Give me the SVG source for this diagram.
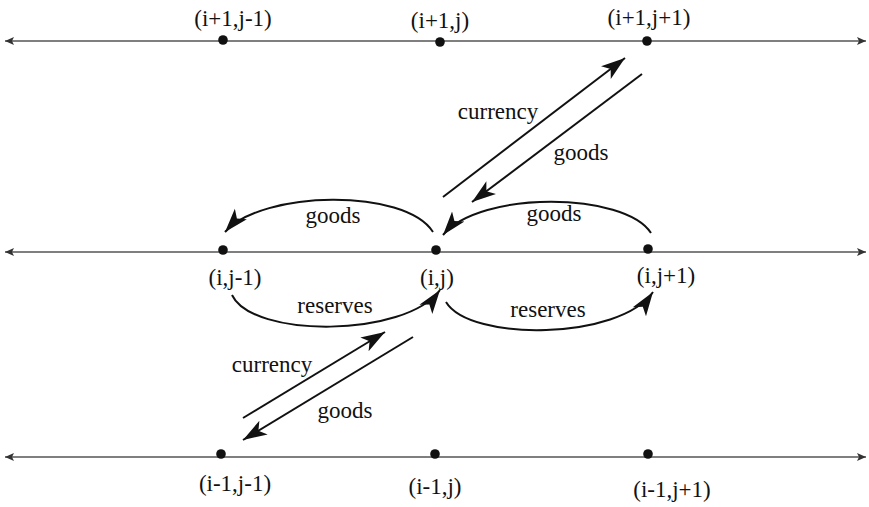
<svg xmlns="http://www.w3.org/2000/svg" width="869" height="507" viewBox="0 0 869 507">
<style>
.axis{stroke:#555;stroke-width:1.5;fill:none;marker-start:url(#ah);marker-end:url(#ah)}
.arr{stroke:#111;stroke-width:2;fill:none;marker-end:url(#big)}
.dot{fill:#111}
text{font-family:"Liberation Serif","Times New Roman",serif;font-size:23px;fill:#111;text-anchor:middle}
</style>
<defs>
<marker id="ah" markerWidth="12" markerHeight="10" refX="9" refY="5" orient="auto-start-reverse" markerUnits="userSpaceOnUse">
<path d="M9,5 L0,1 L2,5 L0,9 z" fill="#333"/>
</marker>
<marker id="big" markerWidth="26" markerHeight="20" refX="24" refY="10" orient="auto" markerUnits="userSpaceOnUse">
<path d="M24,10 L0,2 L6,10 L0,18 z" fill="#111"/>
</marker>
</defs>
<g id="axes">
<line class="axis" x1="5" y1="41" x2="866" y2="41"/>
<line class="axis" x1="5" y1="252" x2="866" y2="252"/>
<line class="axis" x1="5" y1="457" x2="866" y2="457"/>
</g>
<g id="n_ip1_jm1"><circle class="dot" cx="223" cy="40" r="4.8"/><text x="233" y="26">(i+1,j-1)</text></g>
<g id="n_ip1_j"><circle class="dot" cx="440" cy="42" r="4.8"/><text x="440" y="28">(i+1,j)</text></g>
<g id="n_ip1_jp1"><circle class="dot" cx="647" cy="41" r="4.8"/><text x="649" y="25">(i+1,j+1)</text></g>
<g id="n_i_jm1"><circle class="dot" cx="223" cy="250" r="4.8"/><text x="235" y="285">(i,j-1)</text></g>
<g id="n_i_j"><circle class="dot" cx="436" cy="250" r="4.8"/><text x="437" y="285">(i,j)</text></g>
<g id="n_i_jp1"><circle class="dot" cx="648" cy="249" r="4.8"/><text x="666" y="283">(i,j+1)</text></g>
<g id="n_im1_jm1"><circle class="dot" cx="221" cy="454" r="4.8"/><text x="235" y="491">(i-1,j-1)</text></g>
<g id="n_im1_j"><circle class="dot" cx="435" cy="454" r="4.8"/><text x="435" y="494">(i-1,j)</text></g>
<g id="n_im1_jp1"><circle class="dot" cx="648" cy="454" r="4.8"/><text x="672" y="497">(i-1,j+1)</text></g>
<g id="connectors">
<line class="arr" x1="443" y1="197" x2="625" y2="58"/>
<line class="arr" x1="642" y1="74" x2="472" y2="202"/>
<path class="arr" d="M651,233 C625,192 480,190 443,235"/>
<path class="arr" d="M433,232 C405,188 262,190 225,232"/>
<path class="arr" d="M232,295 C252,338 405,338 440,290"/>
<path class="arr" d="M446,302 C470,342 620,340 653,292"/>
<line class="arr" x1="243" y1="418" x2="385" y2="332"/>
<line class="arr" x1="413" y1="337" x2="243" y2="440"/>
<text x="498" y="119">currency</text>
<text x="581" y="160">goods</text>
<text x="554" y="221">goods</text>
<text x="333" y="223">goods</text>
<text x="335" y="313">reserves</text>
<text x="548" y="317">reserves</text>
<text x="272" y="372">currency</text>
<text x="345" y="418">goods</text>
</g>
</svg>
